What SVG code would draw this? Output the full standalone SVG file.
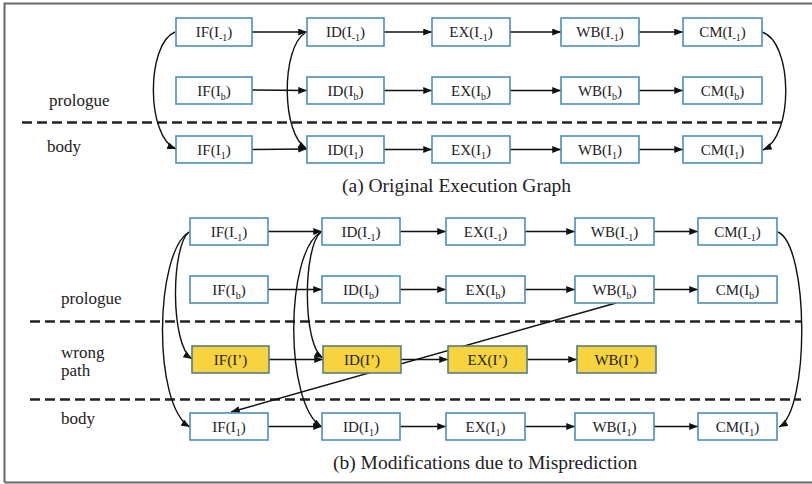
<svg xmlns="http://www.w3.org/2000/svg" width="812" height="484" viewBox="0 0 812 484">
<defs>
<marker id="ah" viewBox="0 0 10 8" refX="10" refY="4" markerWidth="9" markerHeight="7" markerUnits="userSpaceOnUse" orient="auto">
<path d="M0,0 L10,4 L0,8 Z" fill="#111"/>
</marker>
<style>
.box{fill:#fff;stroke:#4a90bb;stroke-width:1.6}
.ybox{fill:#f7d43e;stroke:#4f7f8a;stroke-width:1.6}
text{font-family:'Liberation Serif','DejaVu Serif',serif}
.t{font-size:15px;fill:#222;text-anchor:middle}
.s{font-size:10px}
.lbl{font-size:17px;fill:#222}
.cap{font-size:19.5px;fill:#222}
.e{fill:none;stroke:#111;stroke-width:1.4;marker-end:url(#ah)}
.d{fill:none;stroke:#222;stroke-width:2.6;stroke-dasharray:10,5}
</style>
</defs>
<rect x="0" y="0" width="812" height="484" fill="#fff"/>
<path d="M4.5,482.5 V3.5 H812 M4.5,482.5 H812" fill="none" stroke="#666" stroke-width="2"/>

<g id="dividers">
<line class="d" x1="22" y1="122.5" x2="786" y2="122.5"/>
<line class="d" x1="30" y1="321.5" x2="801" y2="321.5"/>
<line class="d" x1="30" y1="399.5" x2="801" y2="399.5"/>
</g>

<g id="labels" font-family="Liberation Serif, serif">
<text class="lbl" x="49" y="106">prologue</text>
<text class="lbl" x="47" y="152">body</text>
<text class="cap" x="342" y="192">(a) Original Execution Graph</text>
<text class="lbl" x="61" y="304">prologue</text>
<text class="lbl" x="61" y="358">wrong</text>
<text class="lbl" x="61" y="376">path</text>
<text class="lbl" x="61" y="424">body</text>
<text class="cap" x="333" y="469">(b) Modifications due to Misprediction</text>
</g>

<g id="connectors">
<line class="e" x1="252" y1="32" x2="307" y2="32"/>
<line class="e" x1="384" y1="32" x2="432" y2="32"/>
<line class="e" x1="510" y1="32" x2="561" y2="32"/>
<line class="e" x1="639" y1="32" x2="683" y2="32"/>
<line class="e" x1="252" y1="90" x2="307" y2="90.5"/>
<line class="e" x1="384" y1="90.5" x2="432" y2="90.5"/>
<line class="e" x1="510" y1="90.5" x2="561" y2="90.5"/>
<line class="e" x1="639" y1="90.5" x2="683" y2="90.5"/>
<line class="e" x1="252" y1="149.5" x2="307" y2="149"/>
<line class="e" x1="384" y1="149.5" x2="432" y2="149.5"/>
<line class="e" x1="510" y1="149.5" x2="561" y2="149.5"/>
<line class="e" x1="639" y1="149.5" x2="683" y2="149.5"/>
<path class="e" d="M175,32 C146,44 146,137 176,149"/>
<path class="e" d="M305,33 C281,48 281,135 307,149"/>
<path class="e" d="M762,32 C793,42 794,136 763,150"/>
<line class="e" x1="268" y1="231.5" x2="322" y2="231.5"/>
<line class="e" x1="400" y1="231.5" x2="446" y2="231.5"/>
<line class="e" x1="525" y1="231.5" x2="575" y2="231.5"/>
<line class="e" x1="654" y1="231.5" x2="698" y2="231.5"/>
<line class="e" x1="268" y1="289.5" x2="322" y2="289.5"/>
<line class="e" x1="400" y1="289.5" x2="446" y2="289.5"/>
<line class="e" x1="525" y1="289.5" x2="575" y2="289.5"/>
<line class="e" x1="654" y1="289.5" x2="698" y2="289.5"/>
<line class="e" x1="269" y1="359.5" x2="323" y2="359.5"/>
<line class="e" x1="401" y1="359.5" x2="448" y2="359.5"/>
<line class="e" x1="527" y1="359.5" x2="577" y2="359.5"/>
<line class="e" x1="268" y1="426.5" x2="322" y2="426.5"/>
<line class="e" x1="400" y1="426.5" x2="446" y2="426.5"/>
<line class="e" x1="525" y1="426.5" x2="575" y2="426.5"/>
<line class="e" x1="654" y1="426.5" x2="698" y2="426.5"/>
<path class="e" d="M189,232 C171,246 170,345 192,359"/>
<path class="e" d="M189,232 C155,252 152,405 190,427"/>
<path class="e" d="M321,232 C303,246 302,345 323,358"/>
<path class="e" d="M321,232 C285,252 284,405 322,427"/>
<path class="e" d="M778,232 C809,246 810,410 779,427"/>
<line class="e" x1="616" y1="303" x2="231" y2="412"/>
</g>

<g id="a_IF_Im1"><rect class="box" x="176" y="18" width="76" height="28"/><text class="t" x="214" y="37">IF(I<tspan class="s" dy="4">-1</tspan><tspan dy="-4">)</tspan></text></g>
<g id="a_ID_Im1"><rect class="box" x="307" y="18" width="77" height="28"/><text class="t" x="345.5" y="37">ID(I<tspan class="s" dy="4">-1</tspan><tspan dy="-4">)</tspan></text></g>
<g id="a_EX_Im1"><rect class="box" x="432" y="18" width="78" height="28"/><text class="t" x="471" y="37">EX(I<tspan class="s" dy="4">-1</tspan><tspan dy="-4">)</tspan></text></g>
<g id="a_WB_Im1"><rect class="box" x="561" y="18" width="78" height="28"/><text class="t" x="600" y="37">WB(I<tspan class="s" dy="4">-1</tspan><tspan dy="-4">)</tspan></text></g>
<g id="a_CM_Im1"><rect class="box" x="683" y="18" width="79" height="28"/><text class="t" x="722.5" y="37">CM(I<tspan class="s" dy="4">-1</tspan><tspan dy="-4">)</tspan></text></g>

<g id="a_IF_Ib"><rect class="box" x="176" y="77" width="76" height="27"/><text class="t" x="214" y="95.5">IF(I<tspan class="s" dy="4">b</tspan><tspan dy="-4">)</tspan></text></g>
<g id="a_ID_Ib"><rect class="box" x="307" y="77" width="77" height="27"/><text class="t" x="345.5" y="95.5">ID(I<tspan class="s" dy="4">b</tspan><tspan dy="-4">)</tspan></text></g>
<g id="a_EX_Ib"><rect class="box" x="432" y="77" width="78" height="27"/><text class="t" x="471" y="95.5">EX(I<tspan class="s" dy="4">b</tspan><tspan dy="-4">)</tspan></text></g>
<g id="a_WB_Ib"><rect class="box" x="561" y="77" width="78" height="27"/><text class="t" x="600" y="95.5">WB(I<tspan class="s" dy="4">b</tspan><tspan dy="-4">)</tspan></text></g>
<g id="a_CM_Ib"><rect class="box" x="683" y="77" width="79" height="27"/><text class="t" x="722.5" y="95.5">CM(I<tspan class="s" dy="4">b</tspan><tspan dy="-4">)</tspan></text></g>

<g id="a_IF_I1"><rect class="box" x="176" y="136" width="76" height="27"/><text class="t" x="214" y="154.5">IF(I<tspan class="s" dy="4">1</tspan><tspan dy="-4">)</tspan></text></g>
<g id="a_ID_I1"><rect class="box" x="307" y="136" width="77" height="27"/><text class="t" x="345.5" y="154.5">ID(I<tspan class="s" dy="4">1</tspan><tspan dy="-4">)</tspan></text></g>
<g id="a_EX_I1"><rect class="box" x="432" y="136" width="78" height="27"/><text class="t" x="471" y="154.5">EX(I<tspan class="s" dy="4">1</tspan><tspan dy="-4">)</tspan></text></g>
<g id="a_WB_I1"><rect class="box" x="561" y="136" width="78" height="27"/><text class="t" x="600" y="154.5">WB(I<tspan class="s" dy="4">1</tspan><tspan dy="-4">)</tspan></text></g>
<g id="a_CM_I1"><rect class="box" x="683" y="136" width="79" height="27"/><text class="t" x="722.5" y="154.5">CM(I<tspan class="s" dy="4">1</tspan><tspan dy="-4">)</tspan></text></g>

<g id="b_IF_Im1"><rect class="box" x="190" y="218" width="78" height="27"/><text class="t" x="229" y="236.5">IF(I<tspan class="s" dy="4">-1</tspan><tspan dy="-4">)</tspan></text></g>
<g id="b_ID_Im1"><rect class="box" x="322" y="218" width="78" height="27"/><text class="t" x="361" y="236.5">ID(I<tspan class="s" dy="4">-1</tspan><tspan dy="-4">)</tspan></text></g>
<g id="b_EX_Im1"><rect class="box" x="446" y="218" width="79" height="27"/><text class="t" x="485.5" y="236.5">EX(I<tspan class="s" dy="4">-1</tspan><tspan dy="-4">)</tspan></text></g>
<g id="b_WB_Im1"><rect class="box" x="575" y="218" width="79" height="27"/><text class="t" x="614.5" y="236.5">WB(I<tspan class="s" dy="4">-1</tspan><tspan dy="-4">)</tspan></text></g>
<g id="b_CM_Im1"><rect class="box" x="698" y="218" width="79" height="27"/><text class="t" x="737.5" y="236.5">CM(I<tspan class="s" dy="4">-1</tspan><tspan dy="-4">)</tspan></text></g>

<g id="b_IF_Ib"><rect class="box" x="190" y="276" width="78" height="27"/><text class="t" x="229" y="294.5">IF(I<tspan class="s" dy="4">b</tspan><tspan dy="-4">)</tspan></text></g>
<g id="b_ID_Ib"><rect class="box" x="322" y="276" width="78" height="27"/><text class="t" x="361" y="294.5">ID(I<tspan class="s" dy="4">b</tspan><tspan dy="-4">)</tspan></text></g>
<g id="b_EX_Ib"><rect class="box" x="446" y="276" width="79" height="27"/><text class="t" x="485.5" y="294.5">EX(I<tspan class="s" dy="4">b</tspan><tspan dy="-4">)</tspan></text></g>
<g id="b_WB_Ib"><rect class="box" x="575" y="276" width="79" height="27"/><text class="t" x="614.5" y="294.5">WB(I<tspan class="s" dy="4">b</tspan><tspan dy="-4">)</tspan></text></g>
<g id="b_CM_Ib"><rect class="box" x="698" y="276" width="79" height="27"/><text class="t" x="737.5" y="294.5">CM(I<tspan class="s" dy="4">b</tspan><tspan dy="-4">)</tspan></text></g>

<g id="b_IF_Ip"><rect class="ybox" x="192" y="346" width="77" height="27"/><text class="t" x="230.5" y="364.5">IF(I’)</text></g>
<g id="b_ID_Ip"><rect class="ybox" x="323" y="346" width="78" height="27"/><text class="t" x="362" y="364.5">ID(I’)</text></g>
<g id="b_EX_Ip"><rect class="ybox" x="448" y="346" width="79" height="27"/><text class="t" x="487.5" y="364.5">EX(I’)</text></g>
<g id="b_WB_Ip"><rect class="ybox" x="577" y="346" width="79" height="27"/><text class="t" x="616.5" y="364.5">WB(I’)</text></g>

<g id="b_IF_I1"><rect class="box" x="190" y="413" width="78" height="27"/><text class="t" x="229" y="431.5">IF(I<tspan class="s" dy="4">1</tspan><tspan dy="-4">)</tspan></text></g>
<g id="b_ID_I1"><rect class="box" x="322" y="413" width="78" height="27"/><text class="t" x="361" y="431.5">ID(I<tspan class="s" dy="4">1</tspan><tspan dy="-4">)</tspan></text></g>
<g id="b_EX_I1"><rect class="box" x="446" y="413" width="79" height="27"/><text class="t" x="485.5" y="431.5">EX(I<tspan class="s" dy="4">1</tspan><tspan dy="-4">)</tspan></text></g>
<g id="b_WB_I1"><rect class="box" x="575" y="413" width="79" height="27"/><text class="t" x="614.5" y="431.5">WB(I<tspan class="s" dy="4">1</tspan><tspan dy="-4">)</tspan></text></g>
<g id="b_CM_I1"><rect class="box" x="698" y="413" width="79" height="27"/><text class="t" x="737.5" y="431.5">CM(I<tspan class="s" dy="4">1</tspan><tspan dy="-4">)</tspan></text></g>
</svg>
